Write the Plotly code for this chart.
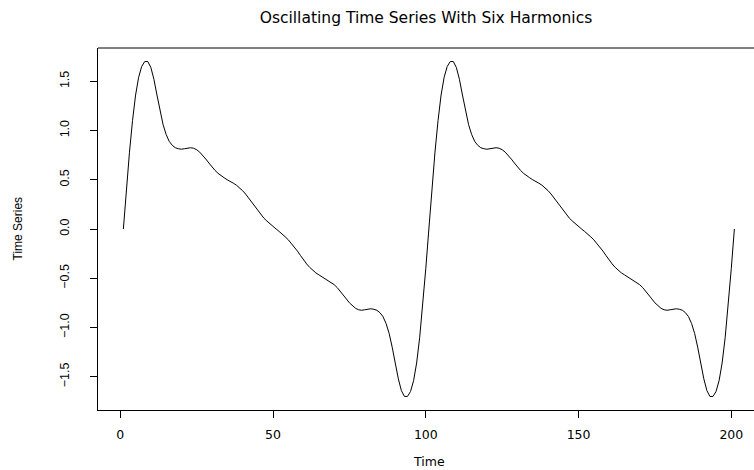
import plotly.graph_objects as go

# Time index and series values
time = list(range(1, 202))
series = [
    0.00, 0.40, 0.78, 1.10, 1.36, 1.54, 1.65, 1.70, 1.70, 1.64,
    1.52, 1.36, 1.20, 1.06, 0.96, 0.89, 0.85, 0.825, 0.815, 0.81,
    0.815, 0.82, 0.825, 0.82, 0.805, 0.78, 0.75, 0.71, 0.67, 0.63,
    0.595, 0.565, 0.54, 0.52, 0.50, 0.485, 0.465, 0.445, 0.42, 0.39,
    0.355, 0.315, 0.27, 0.225, 0.185, 0.145, 0.11, 0.08, 0.05, 0.025,
    0.00, -0.025, -0.05, -0.08, -0.11, -0.145, -0.185, -0.225, -0.27, -0.315,
    -0.355, -0.39, -0.42, -0.445, -0.465, -0.485, -0.50, -0.52, -0.54, -0.565,
    -0.595, -0.63, -0.67, -0.71, -0.75, -0.78, -0.805, -0.82, -0.825, -0.82,
    -0.815, -0.81, -0.815, -0.825, -0.85, -0.89, -0.96, -1.06, -1.20, -1.36,
    -1.52, -1.64, -1.70, -1.70, -1.65, -1.54, -1.36, -1.10, -0.78, -0.40,
    0.00, 0.40, 0.78, 1.10, 1.36, 1.54, 1.65, 1.70, 1.70, 1.64,
    1.52, 1.36, 1.20, 1.06, 0.96, 0.89, 0.85, 0.825, 0.815, 0.81,
    0.815, 0.82, 0.825, 0.82, 0.805, 0.78, 0.75, 0.71, 0.67, 0.63,
    0.595, 0.565, 0.54, 0.52, 0.50, 0.485, 0.465, 0.445, 0.42, 0.39,
    0.355, 0.315, 0.27, 0.225, 0.185, 0.145, 0.11, 0.08, 0.05, 0.025,
    0.00, -0.025, -0.05, -0.08, -0.11, -0.145, -0.185, -0.225, -0.27, -0.315,
    -0.355, -0.39, -0.42, -0.445, -0.465, -0.485, -0.50, -0.52, -0.54, -0.565,
    -0.595, -0.63, -0.67, -0.71, -0.75, -0.78, -0.805, -0.82, -0.825, -0.82,
    -0.815, -0.81, -0.815, -0.825, -0.85, -0.89, -0.96, -1.06, -1.20, -1.36,
    -1.52, -1.64, -1.70, -1.70, -1.65, -1.54, -1.36, -1.10, -0.78, -0.40,
    0.00,
]

x_tick_vals = [0, 50, 100, 150, 200]
x_tick_text = ["0", "50", "100", "150", "200"]
y_tick_vals = [-1.5, -1.0, -0.5, 0.0, 0.5, 1.0, 1.5]
y_tick_text = ["\u22121.5", "\u22121.0", "\u22120.5", "0.0", "0.5", "1.0", "1.5"]

title_text = "Oscillating Time Series With Six Harmonics"
x_label = "Time"
y_label = "Time Series"

FONT = "Liberation Sans, Arial, Helvetica, sans-serif"
WIDE = "DejaVu Sans, Liberation Sans, sans-serif"

fig = go.Figure()
fig.add_trace(go.Scatter(
    x=time, y=series, mode="lines",
    line=dict(color="black", width=1),
    hoverinfo="skip", showlegend=False,
))

fig.update_layout(
    width=754, height=470,
    margin=dict(l=98, r=0, t=48, b=60, pad=0),
    paper_bgcolor="white", plot_bgcolor="white",
    font=dict(family=FONT, size=12, color="black"),
    title=dict(
        text=title_text, x=426 / 754, xref="container", xanchor="center",
        y=1 - 17.5 / 470, yref="container", yanchor="middle",
        font=dict(family=WIDE, size=15.5, color="black"),
    ),
    xaxis=dict(
        range=[-7.3, 207.43], tickmode="array",
        tickvals=x_tick_vals, ticktext=x_tick_text,
        ticks="outside", ticklen=7, tickwidth=1, tickcolor="black",
        showline=True, linecolor="black", linewidth=1,
        showgrid=False, zeroline=False, ticklabelstandoff=6,
        tickfont=dict(family=WIDE, size=12.5, color="black"),
    ),
    yaxis=dict(
        range=[-1.8376, 1.8376], tickmode="array",
        tickvals=y_tick_vals, ticktext=y_tick_text,
        ticks="outside", ticklen=7, tickwidth=1, tickcolor="black",
        showline=True, linecolor="black", linewidth=1,
        showgrid=False, zeroline=False, tickangle=-90,
        ticklabelstandoff=16,
        tickfont=dict(family=FONT, size=12.5, color="black"),
    ),
    shapes=[dict(type="line", xref="paper", yref="paper", x0=0, x1=1, y0=1, y1=1,
                 line=dict(color="black", width=1))],
    annotations=[
        dict(text=x_label, xref="paper", yref="paper", x=0.5, y=0,
             xanchor="center", yanchor="middle", xshift=2.5, yshift=-51,
             showarrow=False, font=dict(family=WIDE, size=12.5, color="black")),
        dict(text=y_label, xref="paper", yref="paper", x=0, y=0.5,
             xanchor="center", yanchor="middle", xshift=-80.5, textangle=-90,
             showarrow=False, font=dict(family=FONT, size=12, color="black")),
    ],
)

fig.write_html(
    "out.html",
    config={"displayModeBar": False},
    post_script="document.body.style.margin='0';document.body.style.overflow='hidden';",
)
